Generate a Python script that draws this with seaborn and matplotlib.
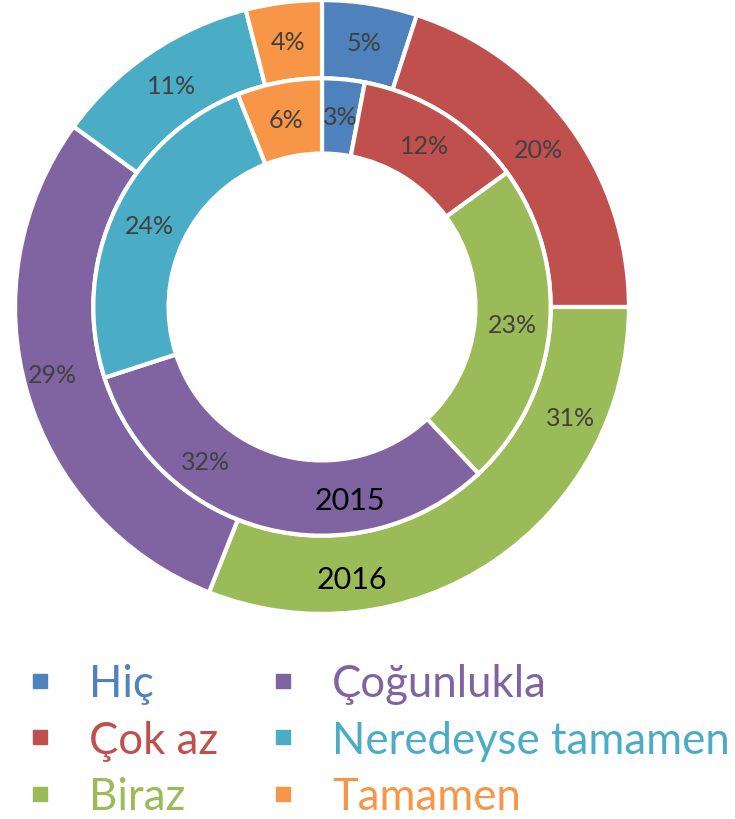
import matplotlib
matplotlib.use("Agg")
import numpy as np
import matplotlib.pyplot as plt
from matplotlib.lines import Line2D
import seaborn as sns

categories = ["Hiç", "Çok az", "Biraz", "Çoğunlukla", "Neredeyse tamamen", "Tamamen"]
values_2016 = [5, 20, 31, 29, 11, 4]
values_2015 = [3, 12, 23, 32, 24, 6]
colors = ["#4F81BD", "#C0504D", "#9BBB59", "#8064A2", "#4BACC6", "#F79646"]
year_labels = ["2015", "2016"]

sns.set_theme(style="white")
plt.rcParams["font.family"] = ["Lato", "DejaVu Sans"]

W, H = 735, 820
fig = plt.figure(figsize=(W / 100, H / 100), dpi=100)
cx, cy, R = 322, 308, 306
ax = fig.add_axes([(cx - R) / W, (H - cy - R) / H, 2 * R / W, 2 * R / H])
ax.axis("off")

lblcol = "#404040"
outer_w = 0.255
inner_r = 0.745
inner_w = 0.245

_, _, out_txt = ax.pie(values_2016, radius=1.0, colors=colors, startangle=90, counterclock=False,
                       wedgeprops=dict(width=outer_w, edgecolor="white", linewidth=3),
                       autopct="%d%%", pctdistance=1.0 - outer_w / 2,
                       textprops=dict(fontsize=18, color=lblcol))
_, _, in_txt = ax.pie(values_2015, radius=inner_r, colors=colors, startangle=90, counterclock=False,
                      wedgeprops=dict(width=inner_w, edgecolor="white", linewidth=3),
                      autopct="%d%%", pctdistance=1.0 - (inner_w / inner_r) / 2,
                      textprops=dict(fontsize=18, color=lblcol))
ax.set_xlim(-0.997, 0.997)
ax.set_ylim(-0.997, 0.997)
ax.set_aspect("equal")

# labels nudged away from the year captions, as in the original
def place(t, ang_deg, r):
    a = np.deg2rad(ang_deg)
    t.set_position((r * np.cos(a), r * np.sin(a)))

place(out_txt[2], -24, 0.885)
place(out_txt[3], -166, 0.905)
place(in_txt[3], -127, 0.63)

ax.text(0.092, -0.63, year_labels[0], ha="center", va="center", fontsize=22, color="black")
ax.text(0.098, -0.885, year_labels[1], ha="center", va="center", fontsize=22, color="black")

handles = [Line2D([], [], marker="s", linestyle="none", markersize=10,
                  markerfacecolor=c, markeredgecolor=c) for c in colors]
leg = fig.legend(handles, categories, ncol=2, loc="upper left",
                 bbox_to_anchor=(18.5 / W, 1 - 664 / H), frameon=False,
                 fontsize=31.5, handlelength=1.0, handletextpad=0.62,
                 columnspacing=0.98, labelspacing=0.355, borderaxespad=0, borderpad=0)
for t, c in zip(leg.get_texts(), colors):
    t.set_color(c)

fig.savefig("out.png", dpi=100, facecolor="white")
